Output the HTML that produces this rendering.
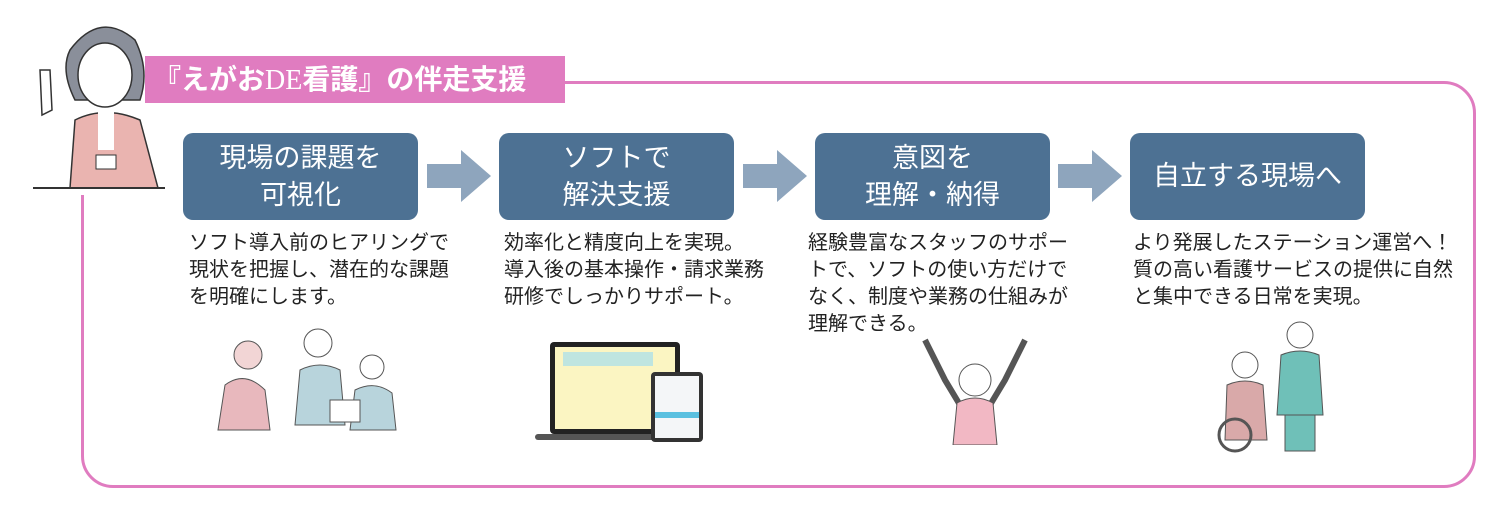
<!DOCTYPE html>
<html><head><meta charset="utf-8"><style>
*{margin:0;padding:0;box-sizing:border-box}
body{width:1500px;height:510px;background:#fff;position:relative;overflow:hidden;font-family:"Liberation Sans","Noto Sans CJK JP",sans-serif}
.frame{position:absolute;left:81px;top:81px;width:1395px;height:407px;border:3px solid #e07cc0;border-radius:32px}
.label{position:absolute;left:145px;top:56px;width:420px;height:47px;background:#e07cc0;color:#fff;font-size:28px;font-weight:bold;line-height:47px;padding-left:8px;white-space:nowrap}
.label span{font-family:"Liberation Serif",serif;font-weight:normal}
.box{position:absolute;top:133px;width:235px;height:87px;background:#4d7193;border-radius:10px;color:#fff;font-size:27px;text-align:center;display:flex;align-items:center;justify-content:center;line-height:37px}
.arr{position:absolute;top:150px}
.txt{position:absolute;top:230px;font-size:20px;line-height:27px;color:#222;white-space:nowrap}
</style></head><body>
<div class="frame"></div>
<div style="position:absolute;left:30px;top:0;width:140px;height:195px;background:#fff"></div>
<svg style="position:absolute;left:30px;top:10px" width="140" height="185" viewBox="0 0 140 185">
<path d="M40 40 Q70 0 105 30 Q120 60 110 90 L45 90 Q30 60 40 40Z" fill="#8a8f9a" stroke="#333" stroke-width="1.5"/>
<ellipse cx="75" cy="65" rx="27" ry="32" fill="#fff" stroke="#333" stroke-width="1.5"/>
<path d="M45 110 Q75 95 110 110 L128 178 L40 178Z" fill="#eab4b0" stroke="#333" stroke-width="1.5"/>
<rect x="68" y="100" width="16" height="40" fill="#fff"/>
<rect x="66" y="145" width="20" height="14" fill="#fff" stroke="#333"/>
<path d="M10 60 L20 60 L22 100 L12 105Z" fill="#fff" stroke="#333" stroke-width="1.5"/>
<line x1="3" y1="178" x2="135" y2="178" stroke="#333" stroke-width="2"/>
</svg>
<div class="label">『えがお<span>DE</span>看護』の伴走支援</div>
<div class="box" style="left:183px">現場の課題を<br>可視化</div>
<div class="box" style="left:499px">ソフトで<br>解決支援</div>
<div class="box" style="left:815px">意図を<br>理解・納得</div>
<div class="box" style="left:1130px">自立する現場へ</div>
<svg class="arr" style="left:427px" width="64" height="52"><path d="M0 14H34V0L64 26L34 52V38H0Z" fill="#8ea5bd"/></svg>
<svg class="arr" style="left:743px" width="64" height="52"><path d="M0 14H34V0L64 26L34 52V38H0Z" fill="#8ea5bd"/></svg>
<svg class="arr" style="left:1058px" width="64" height="52"><path d="M0 14H34V0L64 26L34 52V38H0Z" fill="#8ea5bd"/></svg>
<div class="txt" style="left:189px">ソフト導入前のヒアリングで<br>現状を把握し、潜在的な課題<br>を明確にします。</div>
<div class="txt" style="left:504px">効率化と精度向上を実現。<br>導入後の基本操作・請求業務<br>研修でしっかりサポート。</div>
<div class="txt" style="left:808px">経験豊富なスタッフのサポー<br>トで、ソフトの使い方だけで<br>なく、制度や業務の仕組みが<br>理解できる。</div>
<div class="txt" style="left:1133px">より発展したステーション運営へ！<br>質の高い看護サービスの提供に自然<br>と集中できる日常を実現。</div>
<svg style="position:absolute;left:210px;top:325px" width="190" height="110">
<circle cx="38" cy="30" r="14" fill="#f2d5d5" stroke="#555"/><path d="M8 105 L15 60 Q35 45 55 65 L60 105Z" fill="#e8b8bd" stroke="#555"/>
<circle cx="108" cy="18" r="14" fill="#fff" stroke="#555"/><path d="M85 100 L90 45 Q110 35 130 45 L135 100Z" fill="#b8d4dc" stroke="#555"/>
<circle cx="162" cy="42" r="12" fill="#fff" stroke="#555"/><path d="M140 105 L145 65 Q165 55 182 68 L186 105Z" fill="#b8d4dc" stroke="#555"/>
<rect x="120" y="75" width="30" height="22" fill="#fff" stroke="#555"/></svg>
<svg style="position:absolute;left:535px;top:340px" width="180" height="105">
<rect x="15" y="2" width="130" height="92" rx="4" fill="#222"/><rect x="20" y="7" width="120" height="82" fill="#fbf5c2"/>
<rect x="28" y="12" width="90" height="14" fill="#bfe5e0"/><rect x="0" y="94" width="160" height="6" rx="3" fill="#555"/>
<rect x="116" y="32" width="52" height="70" rx="4" fill="#333"/><rect x="120" y="36" width="44" height="62" fill="#f4f6f8"/><rect x="120" y="72" width="44" height="6" fill="#5ac0e0"/></svg>
<svg style="position:absolute;left:915px;top:335px" width="120" height="110">
<path d="M10 5 L30 45 L45 70" stroke="#555" stroke-width="6" fill="none"/><path d="M110 5 L90 45 L75 70" stroke="#555" stroke-width="6" fill="none"/>
<circle cx="60" cy="45" r="16" fill="#fff" stroke="#555"/><path d="M38 110 L42 68 Q60 58 78 68 L82 110Z" fill="#f2b8c4" stroke="#555"/></svg>
<svg style="position:absolute;left:1215px;top:315px" width="120" height="140">
<circle cx="30" cy="50" r="13" fill="#fff" stroke="#555"/><path d="M10 125 L12 70 Q30 62 48 70 L52 125Z" fill="#d9a9a9" stroke="#555"/>
<circle cx="20" cy="120" r="16" fill="none" stroke="#555" stroke-width="3"/>
<circle cx="85" cy="20" r="13" fill="#fff" stroke="#555"/><path d="M62 100 L66 40 Q85 32 104 40 L108 100Z" fill="#6fc0b8" stroke="#555"/>
<rect x="70" y="100" width="30" height="36" fill="#6fc0b8" stroke="#555"/></svg>
</body></html>
